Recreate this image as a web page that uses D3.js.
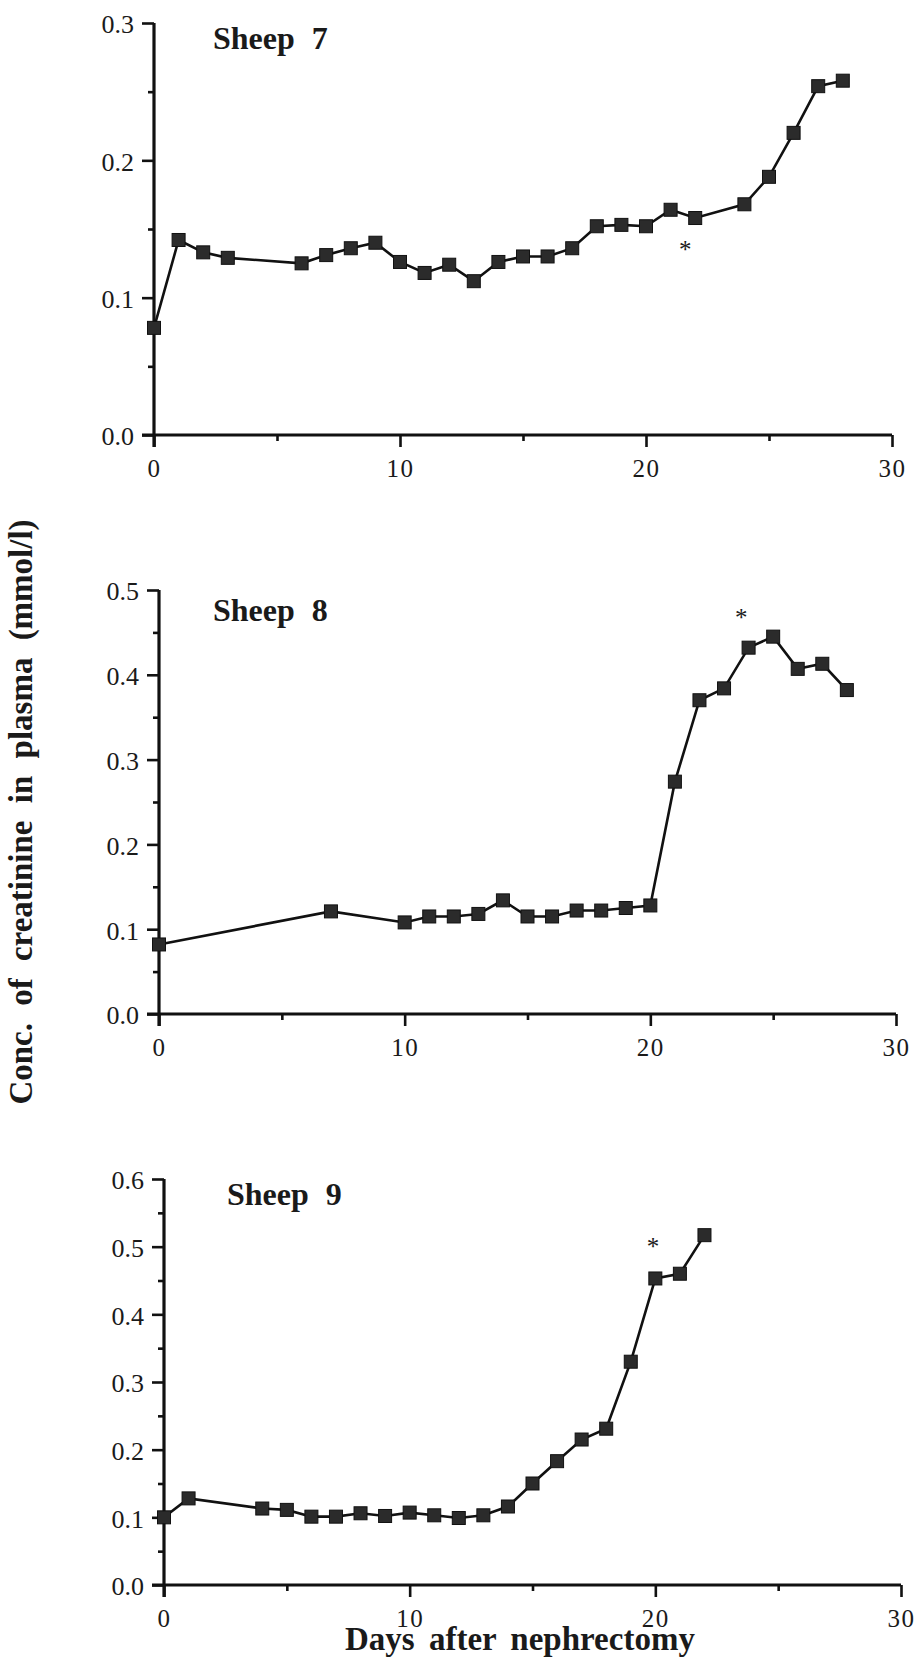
<!DOCTYPE html>
<html>
<head>
<meta charset="utf-8">
<script src="https://cdn.jsdelivr.net/npm/d3@7"></script>
<style>
  body { margin: 0; background: #fff; }
  svg text { font-family: "Liberation Serif", "Times New Roman", serif; fill: #1a1a1a; }
  .axis path, .axis line { stroke: #111; }
  .axis path { stroke-width: 3.2; }
  .axis line { stroke-width: 2.6; }
</style>
</head>
<body>
<script>
// days after nephrectomy and creatinine (mmol/l)
const sheep7Days = [0, 1, 2, 3, 6, 7, 8, 9, 10, 11, 12, 13, 14, 15, 16, 17, 18, 19, 20, 21, 22, 24, 25, 26, 27, 28];
const sheep7Conc = [0.078, 0.142, 0.133, 0.129, 0.125, 0.131, 0.136, 0.140, 0.126, 0.118, 0.124, 0.112, 0.126, 0.130, 0.130, 0.136, 0.152, 0.153, 0.152, 0.164, 0.158, 0.168, 0.188, 0.220, 0.254, 0.258];

const sheep8Days = [0, 7, 10, 11, 12, 13, 14, 15, 16, 17, 18, 19, 20, 21, 22, 23, 24, 25, 26, 27, 28];
const sheep8Conc = [0.082, 0.121, 0.108, 0.115, 0.115, 0.118, 0.134, 0.115, 0.115, 0.122, 0.122, 0.125, 0.128, 0.274, 0.370, 0.384, 0.432, 0.445, 0.407, 0.413, 0.382];

const sheep9Days = [0, 1, 4, 5, 6, 7, 8, 9, 10, 11, 12, 13, 14, 15, 16, 17, 18, 19, 20, 21, 22];
const sheep9Conc = [0.100, 0.128, 0.113, 0.111, 0.101, 0.101, 0.106, 0.102, 0.107, 0.103, 0.099, 0.103, 0.116, 0.150, 0.183, 0.215, 0.231, 0.330, 0.453, 0.460, 0.517];

const xTicks = [0, 10, 20, 30];
const xMinor = [5, 15, 25];
const yTicks7 = [0, 0.1, 0.2, 0.3];
const yTicks8 = [0, 0.1, 0.2, 0.3, 0.4, 0.5];
const yTicks9 = [0, 0.1, 0.2, 0.3, 0.4, 0.5, 0.6];
// asterisks: [day, conc]
const stars = [[21.6, 0.140], [23.7, 0.476], [19.9, 0.510]];

const titles = ["Sheep 7", "Sheep 8", "Sheep 9"];

const W = 919, H = 1659;
const svg = d3.select("body").append("svg")
    .attr("width", W)
    .attr("height", H);

// panel layout in pixels
const panels = [
    { days: sheep7Days, conc: sheep7Conc, yTicks: yTicks7, x0: 154, x1: 892, yb: 435, yt: 23, tx: 213, ty: 49, star: stars[0], title: titles[0] },
    { days: sheep8Days, conc: sheep8Conc, yTicks: yTicks8, x0: 159, x1: 896, yb: 1014, yt: 590, tx: 213, ty: 621, star: stars[1], title: titles[1] },
    { days: sheep9Days, conc: sheep9Conc, yTicks: yTicks9, x0: 164, x1: 901, yb: 1585, yt: 1179, tx: 227, ty: 1205, star: stars[2], title: titles[2] }
];

panels.forEach(drawPanel);

function axisGroup(g) {
    return g.append("g").attr("class", "axis");
}

function drawPanel(p) {
    const yMax = d3.max(p.yTicks);
    const x = d3.scaleLinear().domain([0, 30]).range([p.x0, p.x1]);
    const y = d3.scaleLinear().domain([0, yMax]).range([p.yb, p.yt]);
    const g = svg.append("g");

    // minor ticks (drawn first, under the axes)
    const yMinor = d3.range(0.05, yMax, 0.1);
    axisGroup(g)
        .attr("transform", `translate(${p.x0},0)`)
        .call(d3.axisLeft(y).tickValues(yMinor).tickSize(6).tickSizeOuter(0).tickFormat(""))
        .select(".domain").remove();
    axisGroup(g)
        .attr("transform", `translate(0,${p.yb})`)
        .call(d3.axisBottom(x).tickValues(xMinor).tickSize(6).tickSizeOuter(0).tickFormat(""))
        .select(".domain").remove();

    // x axis
    const xa = axisGroup(g)
        .attr("transform", `translate(0,${p.yb})`)
        .call(d3.axisBottom(x).tickValues(xTicks).tickSize(12).tickSizeOuter(0).tickFormat(d3.format("d")));
    xa.attr("font-family", null).attr("font-size", null);
    xa.select(".domain").attr("d", `M${p.x0 - 12},0H${p.x1}`);
    xa.selectAll("text")
        .attr("y", 42)
        .attr("dy", 0)
        .style("font-size", "25px")
        .style("letter-spacing", "1.5px");

    // y axis
    const ya = axisGroup(g)
        .attr("transform", `translate(${p.x0},0)`)
        .call(d3.axisLeft(y).tickValues(p.yTicks).tickSize(12).tickSizeOuter(0).tickFormat(d3.format(".1f")));
    ya.attr("font-family", null).attr("font-size", null);
    ya.select(".domain").attr("d", `M0,${p.yt}V${p.yb + 12}`);
    ya.selectAll("text")
        .attr("x", -20)
        .attr("dy", "0.38em")
        .style("font-size", "26px");

    // line
    const pts = p.days.map((d, i) => [d, p.conc[i]]);
    g.append("path")
        .datum(pts)
        .attr("fill", "none")
        .attr("stroke", "#111")
        .attr("stroke-width", 2.6)
        .attr("d", d3.line().x(d => x(d[0])).y(d => y(d[1])));

    // square markers
    const s = 13;
    g.selectAll("rect.pt")
        .data(pts)
        .join("rect")
        .attr("class", "pt")
        .attr("x", d => x(d[0]) - s / 2)
        .attr("y", d => y(d[1]) - s / 2)
        .attr("width", s)
        .attr("height", s)
        .attr("fill", "#2b2b2b")
        .attr("stroke", "#111")
        .attr("stroke-width", 1);

    // asterisk
    g.append("text")
        .attr("x", x(p.star[0]))
        .attr("y", y(p.star[1]))
        .attr("dy", "0.62em")
        .attr("text-anchor", "middle")
        .style("font-size", "25px")
        .text("*");

    // title
    g.append("text")
        .attr("x", p.tx)
        .attr("y", p.ty)
        .style("font-size", "32px")
        .style("font-weight", "bold")
        .style("word-spacing", "9px")
        .text(p.title);
}

// axis titles
svg.append("text")
    .attr("transform", "translate(32,812) rotate(-90)")
    .attr("text-anchor", "middle")
    .style("font-size", "33px")
    .style("font-weight", "bold")
    .style("word-spacing", "9px")
    .text("Conc. of creatinine in plasma (mmol/l)");

svg.append("text")
    .attr("x", 345)
    .attr("y", 1650)
    .style("font-size", "33px")
    .style("font-weight", "bold")
    .style("word-spacing", "6px")
    .text("Days after nephrectomy");
</script>
</body>
</html>
